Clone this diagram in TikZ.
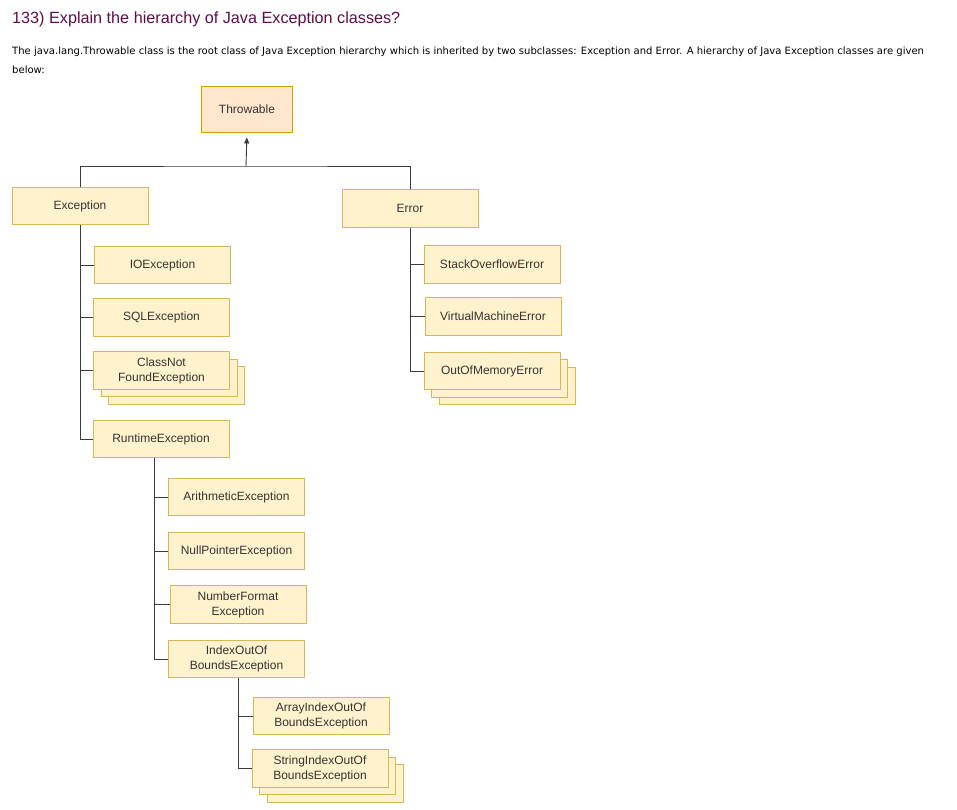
\documentclass[tikz,border=0pt]{standalone}
\usepackage{fontspec}
\setmainfont{Liberation Sans}
\newfontfamily\bodyfont{DejaVu Sans}
\usetikzlibrary{arrows.meta,shadows}
\definecolor{clsfill}{HTML}{FFF2CC}
\definecolor{clsdraw}{HTML}{D6B656}
\definecolor{rootfill}{HTML}{FFE6CC}
\definecolor{rootdraw}{HTML}{D79B00}
\definecolor{titlecol}{HTML}{610B4B}
\definecolor{linecol}{HTML}{3A3A3A}
\definecolor{txtcol}{HTML}{333333}
\tikzset{
  cls/.style={draw=clsdraw, fill=clsfill, line width=0.9pt, text=txtcol,
    minimum width=136pt, minimum height=37.5pt, inner sep=0pt, align=center,
    font=\fontsize{12}{15}\selectfont},
  root/.style={cls, draw=rootdraw, fill=rootfill, minimum width=91pt, minimum height=46pt},
  stack/.style={copy shadow={shadow xshift=15pt, shadow yshift=-15pt, fill=clsfill, draw=clsdraw},
                copy shadow={shadow xshift=7.5pt, shadow yshift=-7.5pt, fill=clsfill, draw=clsdraw}},
  conn/.style={draw=linecol, line width=0.9pt},
}
\begin{document}
\begin{tikzpicture}[x=1pt,y=-1pt]
\useasboundingbox (0,0) rectangle (957,809);
\node[anchor=base west, text=titlecol, font=\fontsize{16.2}{20}\selectfont, inner sep=0pt] (title) at (12,23) {133) Explain the hierarchy of Java Exception classes?};
\node[anchor=base west, font=\bodyfont\fontsize{10.05}{12}\selectfont, inner sep=0pt] (body1) at (12,54) {The java.lang.Throwable class is the root class of Java Exception hierarchy which is inherited by two subclasses: Exception and Error. A hierarchy of Java Exception classes are given};
\node[anchor=base west, font=\bodyfont\fontsize{10.05}{12}\selectfont, inner sep=0pt] (body2) at (12,73) {below:};

\node[root] (throw) at (247,109) {Throwable};
\node[cls] (exc) at (80,206) {Exception};
\node[cls] (err) at (410,208.5) {Error};

\node[cls] (so) at (492,264.5) {StackOverflowError};
\node[cls] (vm) at (493,316.5) {VirtualMachineError};
\node[cls, stack] (oom) at (492,371) {OutOfMemoryError};

\node[cls] (io) at (162.5,265) {IOException};
\node[cls] (sql) at (161.5,317.5) {SQLException};
\node[cls, stack] (cnf) at (161.5,370.5) {ClassNot\\FoundException};
\node[cls] (rt) at (161,439) {RuntimeException};

\node[cls] (ar) at (236.5,497) {ArithmeticException};
\node[cls] (np) at (236.5,551) {NullPointerException};
\node[cls] (nf) at (238,604.5) {NumberFormat\\Exception};
\node[cls] (ioob) at (236.5,659) {IndexOutOf\\BoundsException};

\node[cls] (aioob) at (321,716) {ArrayIndexOutOf\\BoundsException};
\node[cls, stack] (sioob) at (320,768.5) {StringIndexOutOf\\BoundsException};

\coordinate (bus) at (246,166);
\draw[conn, -{Triangle[length=6pt,width=5pt]}, shorten >=5pt] (bus) -- (throw.south);
\draw[conn] (exc.north) |- (bus) -| (err.north);

\draw[conn] (exc.south) |- (io.west);
\draw[conn] (exc.south) |- (sql.west);
\draw[conn] (exc.south) |- (cnf.west);
\draw[conn] (exc.south) |- (rt.west);

\draw[conn] (err.south) |- (so.west);
\draw[conn] (err.south) |- (vm.west);
\draw[conn] (err.south) |- (oom.west);

\coordinate (rtj) at ([xshift=-7pt]rt.south);
\draw[conn] (rtj) |- (ar.west);
\draw[conn] (rtj) |- (np.west);
\draw[conn] (rtj) |- (nf.west);
\draw[conn] (rtj) |- (ioob.west);

\coordinate (ioj) at ([xshift=1.5pt]ioob.south);
\draw[conn] (ioj) |- (aioob.west);
\draw[conn] (ioj) |- (sioob.west);
\end{tikzpicture}
\end{document}
